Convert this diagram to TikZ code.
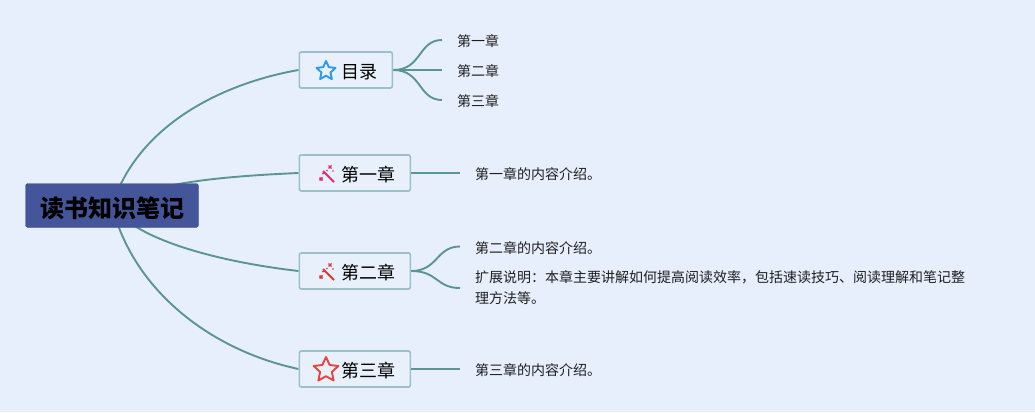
\documentclass[tikz,border=0pt]{standalone}
\usepackage{fontspec}
\setmainfont{Noto Sans CJK SC}
\usetikzlibrary{arrows,backgrounds,calc,shapes.geometric}
\definecolor{pagebg}{HTML}{E7EFFC}
\definecolor{rootblue}{HTML}{44559A}
\definecolor{linkgreen}{HTML}{5A9590}
\definecolor{boxline}{HTML}{9CC0C6}
\definecolor{boxfill}{HTML}{E8F1FB}
\definecolor{starblue}{HTML}{2F9BE6}
\definecolor{starred}{HTML}{E2463C}
\definecolor{wandpink}{HTML}{E8286E}
\definecolor{wandred}{HTML}{DD3A30}
\tikzset{
  rootbox/.style={fill=rootblue,draw=rootblue,rounded corners=2.5pt,minimum width=173pt,minimum height=44pt,inner sep=0pt,text height=26.6pt,text depth=3pt,font=\fontsize{24}{28}\selectfont\bfseries},
  topicbox/.style={draw=boxline,fill=boxfill,line width=1.7pt,rounded corners=2pt,anchor=west,minimum height=36pt,inner xsep=15pt,inner ysep=0pt,text height=20pt,text depth=3pt,font=\fontsize{18}{22}\selectfont},
  leaf/.style={anchor=west,inner xsep=15pt,inner ysep=0pt,align=left,text=black!88,font=\fontsize{14}{21}\selectfont},
  leafline/.style={leaf,text height=16pt,text depth=3pt},
  link/.style={draw=linkgreen,line width=1.9pt},
  staricon/.style={star,star points=5,star point ratio=2.1,inner sep=0pt,line width=1.9pt,line join=round,fill=none},
  pics/wand/.style={code={
    \draw[#1,line width=1.8pt] (-3,-2) -- (8,9);
    \draw[#1,line width=1.5pt] (-6.5,4.5) -- (-3.5,7.5) (-6.5,7.5) -- (-3.5,4.5);
    \draw[#1,line width=1.4pt] (2.5,-7.5) -- (5.5,-4.5) (2.5,-4.5) -- (5.5,-7.5);
    \fill[#1] (-3,0.5) circle (1.1pt) (7,-2) circle (0.9pt) (1,-2.5) circle (0.9pt);
  }}
}
\begin{document}
\begin{tikzpicture}[x=1pt,y=-1pt]
\begin{scope}[on background layer]
\fill[pagebg] (0,0) rectangle (1035,412);
\end{scope}
\useasboundingbox (0,0) rectangle (1035,412);
\node[rootbox] (root) at (112,205.5) {读书知识笔记};
% topics
\node[topicbox] (mulu) at (298.5,70) {\hspace{27pt}目录};
\node[topicbox] (ch1) at (298.5,173) {\hspace{27pt}第一章};
\node[topicbox] (ch2) at (298.5,271) {\hspace{27pt}第二章};
\node[topicbox] (ch3) at (298.5,369) {\hspace{27pt}第三章};
\node[staricon,draw=starblue,minimum size=20pt] (icona) at (326,71) {};
\node[staricon,draw=starred,minimum size=26pt] (icond) at (326,370) {};
\pic at (326,173) {wand=wandpink};
\pic at (326,271) {wand=wandred};
% leaves
\node[leafline] (mulua) at (442,40) {第一章};
\node[leafline] (mulub) at (442,70) {第二章};
\node[leafline] (muluc) at (442,100) {第三章};
\node[leafline] (ch1a) at (460,173) {第一章的内容介绍。};
\node[leafline] (ch2a) at (460,246.5) {第二章的内容介绍。};
\node[leaf] (ch2b) at (460,288) {扩展说明：本章主要讲解如何提高阅读效率，包括速读技巧、阅读理解和笔记整\\理方法等。};
\node[leafline] (ch3a) at (460,369) {第三章的内容介绍。};
\begin{scope}[on background layer]
\draw[link] (root.center) .. controls (140,120) and (230,82) .. (mulu.west);
\draw[link] (root.center) .. controls (150,182) and (230,176) .. (ch1.west);
\draw[link] (root.center) .. controls (135,240) and (220,262) .. (ch2.west);
\draw[link] (root.center) .. controls (133,290) and (210,350) .. (ch3.west);
\draw[link] (mulu.east) .. controls (422,70) and (418,40) .. (mulua.west);
\draw[link] (mulu.east) -- (mulub.west);
\draw[link] (mulu.east) .. controls (422,70) and (418,100) .. (muluc.west);
\draw[link] (ch1.east) -- (ch1a.west);
\draw[link] (ch2.east) .. controls (438,271) and (436,246.5) .. (ch2a.west);
\draw[link] (ch2.east) .. controls (438,271) and (436,288) .. (ch2b.west);
\draw[link] (ch3.east) -- (ch3a.west);
\end{scope}
\end{tikzpicture}
\end{document}
